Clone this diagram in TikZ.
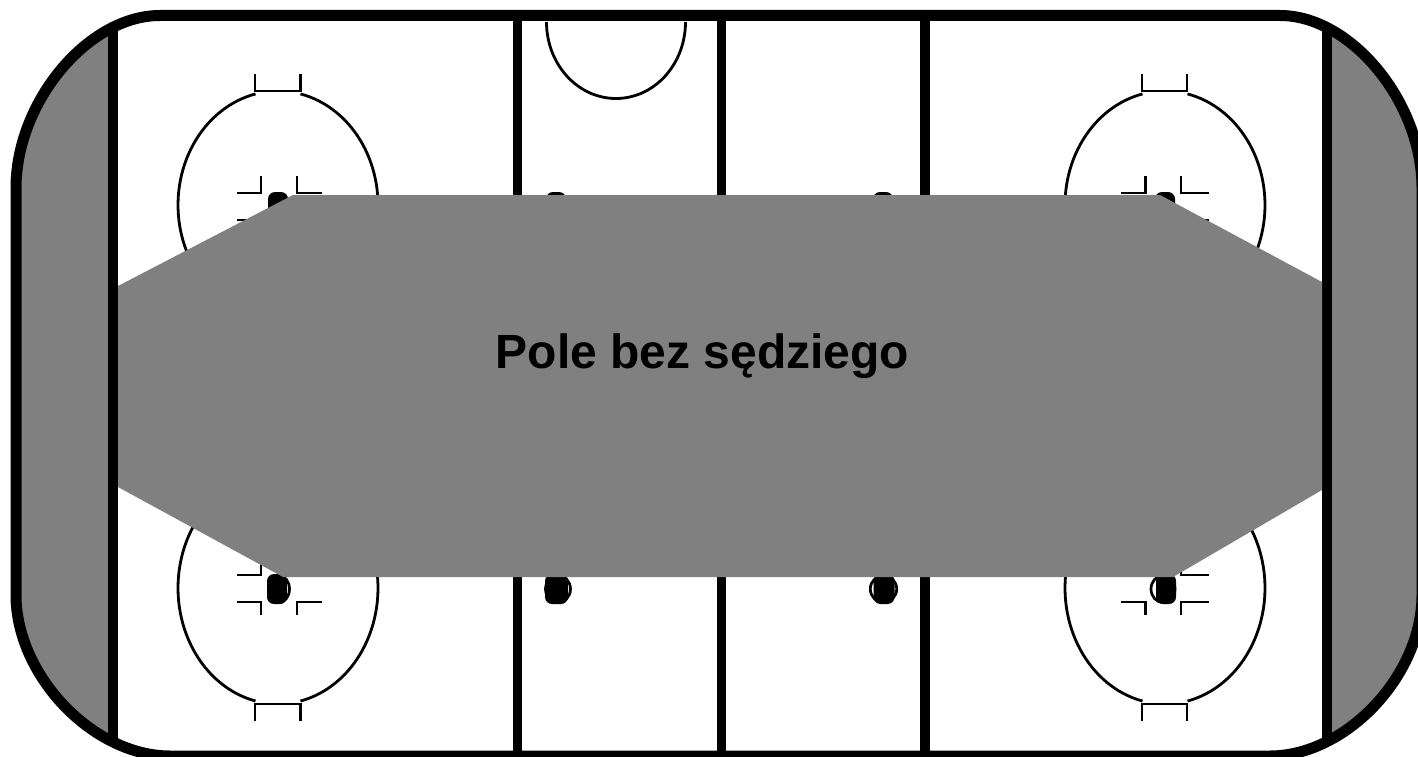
\documentclass[tikz,border=0pt]{standalone}
\usepackage{fontspec}
\setmainfont{Liberation Sans}
\definecolor{zone}{HTML}{808080}
\tikzset{
  thinline/.style={line width=2.8pt,black},
  boardline/.style={line width=11pt,black},
  zonefill/.style={fill=zone,draw=none},
  dotfill/.style={fill=black,draw=none,rounded corners=7pt},
  ring/.style={draw=black,line width=2.7pt,fill=white},
}
\newcommand{\boardpath}{(160,15.5) -- (1280,15.5) .. controls (1351,15.5) and (1422,102) .. (1422,188) -- (1422,595) .. controls (1422,675.5) and (1346,756) .. (1270,756) -- (170,756) .. controls (93,756) and (16,675.5) .. (16,595) -- (16,188) .. controls (16,102) and (88,15.5) .. (160,15.5) -- cycle}
\newcommand{\puck}[2]{\path[dotfill] (#1-10,#2-15) rectangle (#1+10,#2+15);}
% #1 cx, #2 tick left, #3 tick right, #4 inner left, #5 inner right, #6 outer left, #7 outer right
\newcommand{\faceoff}[7]{%
  \draw[thinline] plot[domain=103:437,samples=120] ({#1+100*cos(\x)},{205-114*sin(\x)});
  \draw[thinline] plot[domain=103:437,samples=120] ({#1+100*cos(\x)},{588+116*sin(\x)});
  \draw[thinline] (#2,74) -- (#2,91) -- (#3,91) -- (#3,74);
  \draw[thinline] (#2,721) -- (#2,704) -- (#3,704) -- (#3,721);
  \draw[thinline] (#6,193) -- (#4,193) -- (#4,176);
  \draw[thinline] (#7,193) -- (#5,193) -- (#5,176);
  \draw[thinline] (#6,220) -- (#4,220) -- (#4,233);
  \draw[thinline] (#7,220) -- (#5,220) -- (#5,233);
  \draw[thinline] (#6,575) -- (#4,575) -- (#4,562);
  \draw[thinline] (#7,575) -- (#5,575) -- (#5,562);
  \draw[thinline] (#6,602) -- (#4,602) -- (#4,615);
  \draw[thinline] (#7,602) -- (#5,602) -- (#5,615);
}
\begin{document}
\begin{tikzpicture}[x=1pt,y=-1pt]
\useasboundingbox (0,0) rectangle (1418,757);
\clip (0,0) rectangle (1418,757);
\fill[white] (0,0) rectangle (1418,757);
% end zones
\begin{scope}
  \clip \boardpath;
  \fill[zone] (0,0) rectangle (113,757);
  \fill[zone] (1327,0) rectangle (1418,757);
\end{scope}
% centre ice arc
\draw[thinline] plot[domain=0:180,samples=80] ({616+69.5*cos(\x)},{22+76.5*sin(\x)});
% face-off circles
\faceoff{278}{255}{300.5}{261}{297}{237}{322}
\faceoff{1165}{1142}{1187}{1145.5}{1181}{1121}{1209}
% dots
\draw[ring] (279,589) ellipse [x radius=10.5, y radius=13.5];
\puck{277}{589}
\draw[ring] (1163,589) ellipse [x radius=12, y radius=13.5];
\puck{1166}{589}
\draw[ring] (558,589) ellipse [x radius=12.5, y radius=13.5];
\path[dotfill] (545,574) rectangle (568,604);
\draw[ring] (883.5,589) ellipse [x radius=13.2, y radius=13.5];
\path[dotfill] (873.5,574) rectangle (894.5,604);
\puck{278}{207}
\puck{1165}{207}
\puck{556}{207}
\puck{883}{207}
% lines
\draw[line width=10pt] (113,31) -- (113,738);
\draw[line width=9pt] (517.5,15) -- (517.5,756);
\draw[line width=9pt] (721.5,15) -- (721.5,756);
\draw[line width=10pt] (925,15) -- (925,756);
\draw[line width=10pt] (1327,31) -- (1327,738);
% central zone
\path[zonefill] (118,286) -- (293,195) -- (1160,195) -- (1322,282) -- (1322,490) -- (1173,577) -- (283,577) -- (118,487) -- cycle;
% border
\draw[boardline] \boardpath;
\node[font=\fontsize{48}{48}\selectfont\bfseries,anchor=base,inner sep=0pt] (label) at (702.5,368) {Pole bez sędziego};
\end{tikzpicture}
\end{document}
